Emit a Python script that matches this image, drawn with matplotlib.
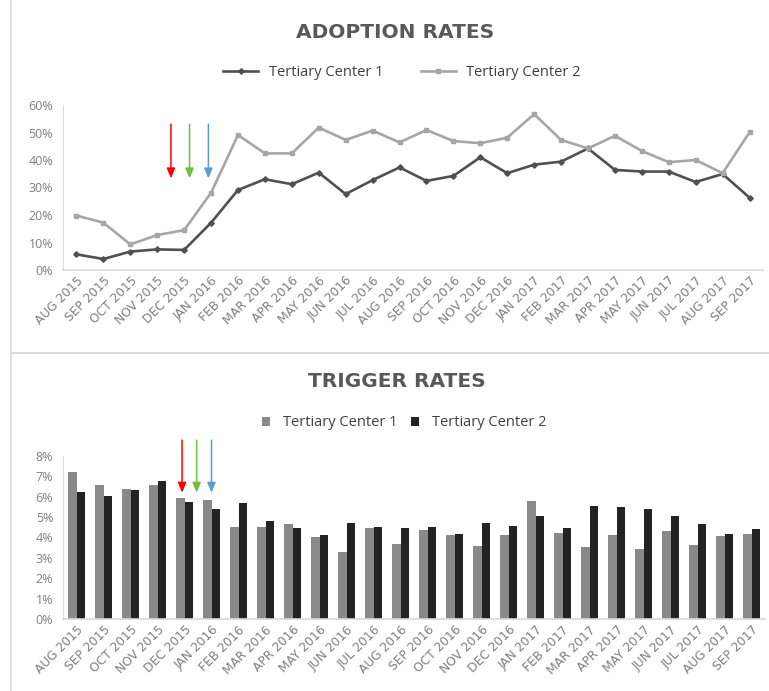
import matplotlib
matplotlib.use("Agg")
import matplotlib.pyplot as plt
from matplotlib.lines import Line2D
from matplotlib.ticker import FuncFormatter, MultipleLocator

plt.rcParams['font.family'] = ['Open Sans', 'DejaVu Sans']

months = ["AUG 2015", "SEP 2015", "OCT 2015", "NOV 2015", "DEC 2015",
          "JAN 2016", "FEB 2016", "MAR 2016", "APR 2016", "MAY 2016",
          "JUN 2016", "JUL 2016", "AUG 2016", "SEP 2016", "OCT 2016",
          "NOV 2016", "DEC 2016", "JAN 2017", "FEB 2017", "MAR 2017",
          "APR 2017", "MAY 2017", "JUN 2017", "JUL 2017", "AUG 2017",
          "SEP 2017"]

adoption_c1 = [5.7, 4.0, 6.7, 7.5, 7.3, 17.2, 29.1, 33.0, 31.2, 35.4,
               27.6, 32.7, 37.3, 32.4, 34.2, 41.0, 35.2, 38.3, 39.4, 44.2,
               36.4, 35.8, 35.8, 32.0, 34.9, 26.3]
adoption_c2 = [19.8, 17.2, 9.3, 12.7, 14.5, 28.1, 49.1, 42.4, 42.4, 51.8,
               47.3, 50.7, 46.4, 50.9, 46.9, 46.1, 48.1, 56.7, 47.3, 44.2,
               48.8, 43.3, 39.2, 40.0, 35.2, 50.1]

trigger_c1 = [7.18, 6.56, 6.38, 6.56, 5.91, 5.83, 4.50, 4.50, 4.64, 4.04,
              3.30, 4.45, 3.68, 4.36, 4.12, 3.58, 4.12, 5.80, 4.23, 3.52,
              4.12, 3.44, 4.30, 3.63, 4.06, 4.17]
trigger_c2 = [6.21, 6.03, 6.32, 6.76, 5.73, 5.38, 5.67, 4.82, 4.46, 4.10,
              4.69, 4.51, 4.45, 4.53, 4.17, 4.72, 4.58, 5.07, 4.46, 5.55,
              5.50, 5.39, 5.07, 4.66, 4.15, 4.40]

series_names = ["Tertiary Center 1", "Tertiary Center 2"]
arrow_colors = ["#ff0000", "#70c040", "#5b9bd5"]

W, H = 769, 691
fig = plt.figure(figsize=(W / 100, H / 100), dpi=100)

TXT = "#595959"
TICK = "#7f7f7f"
AX = "#d9d9d9"

def setup_axes(ax, ymax, step):
    ax.set_xlim(-0.5, len(months) - 0.5)
    ax.set_ylim(0, ymax)
    ax.yaxis.set_major_locator(MultipleLocator(step))
    ax.yaxis.set_major_formatter(FuncFormatter(lambda v, p: f"{v:.0f}%"))
    ax.set_xticks(range(len(months)))
    ax.set_xticklabels(months, rotation=45, ha="right", rotation_mode="anchor",
                       fontsize=8.8, color=TICK, family="DejaVu Sans")
    ax.tick_params(axis="both", length=0)
    ax.tick_params(axis="y", labelsize=9, labelcolor=TICK, pad=7)
    ax.tick_params(axis="x", pad=3)
    for s in ["top", "right"]:
        ax.spines[s].set_visible(False)
    ax.spines["left"].set_color(AX)
    ax.spines["bottom"].set_color(AX)
    ax.spines["left"].set_linewidth(0.8)
    ax.spines["bottom"].set_linewidth(1.2)

# ---------- Top: Adoption rates ----------
ax1 = fig.add_axes([63 / W, 1 - 270 / H, 700 / W, 165 / H])
setup_axes(ax1, 60, 10)
x = list(range(len(months)))
l1, = ax1.plot(x, adoption_c1, color="#505050", lw=1.9, marker="D", ms=2.8,
               label=series_names[0])
l2, = ax1.plot(x, adoption_c2, color="#a6a6a6", lw=1.9, marker="s", ms=3.2,
               label=series_names[1])
for xi, c in zip([3.51, 4.2, 4.9], arrow_colors):
    ax1.annotate("", xy=(xi, 33.3), xytext=(xi, 53.0),
                 arrowprops=dict(arrowstyle="-|>,head_width=0.25,head_length=0.6",
                                 color=c, lw=1.1, shrinkA=0, shrinkB=0),
                 annotation_clip=False)

fig.text(395 / W, 1 - 33 / H, "ADOPTION RATES", ha="center", va="center",
         fontsize=14.5, fontweight="bold", color=TXT, family="DejaVu Sans")
fig.legend(handles=[l1, l2], loc="center", bbox_to_anchor=(402 / W, 1 - 73 / H),
           ncol=2, frameon=False, fontsize=10.5, labelcolor="#404040",
           handlelength=2.4, columnspacing=2.6, handletextpad=0.7)

# ---------- Bottom: Trigger rates ----------
ax2 = fig.add_axes([63 / W, 1 - 619.3 / H, 702 / W, 163.6 / H])
setup_axes(ax2, 8, 1)
bw = 0.33
b1 = ax2.bar([i - bw / 2 for i in x], trigger_c1, width=bw, color="#898989",
             label=series_names[0])
b2 = ax2.bar([i + bw / 2 for i in x], trigger_c2, width=bw, color="#232323",
             label=series_names[1])
for xi, c in zip([3.91, 4.45, 5.0], arrow_colors):
    ax2.annotate("", xy=(xi, 6.19), xytext=(xi, 8.76),
                 arrowprops=dict(arrowstyle="-|>,head_width=0.25,head_length=0.6",
                                 color=c, lw=1.1, shrinkA=0, shrinkB=0),
                 annotation_clip=False)

fig.text(397 / W, 1 - 382 / H, "TRIGGER RATES", ha="center", va="center",
         fontsize=14.5, fontweight="bold", color=TXT, family="DejaVu Sans")
fig.legend(handles=[b1, b2], loc="center", bbox_to_anchor=(404 / W, 1 - 423 / H),
           ncol=2, frameon=False, fontsize=10.5, labelcolor="#404040",
           handlelength=0.55, handleheight=0.55, columnspacing=0.9,
           handletextpad=0.9)

# ---------- frame lines ----------
fig.add_artist(Line2D([11 / W, 11 / W], [0, 1], transform=fig.transFigure,
                      color=AX, lw=1.2))
fig.add_artist(Line2D([11 / W, 1], [1 - 352.7 / H, 1 - 352.7 / H],
                      transform=fig.transFigure, color=AX, lw=1.5))

fig.savefig("out.png", dpi=100, facecolor="white")
